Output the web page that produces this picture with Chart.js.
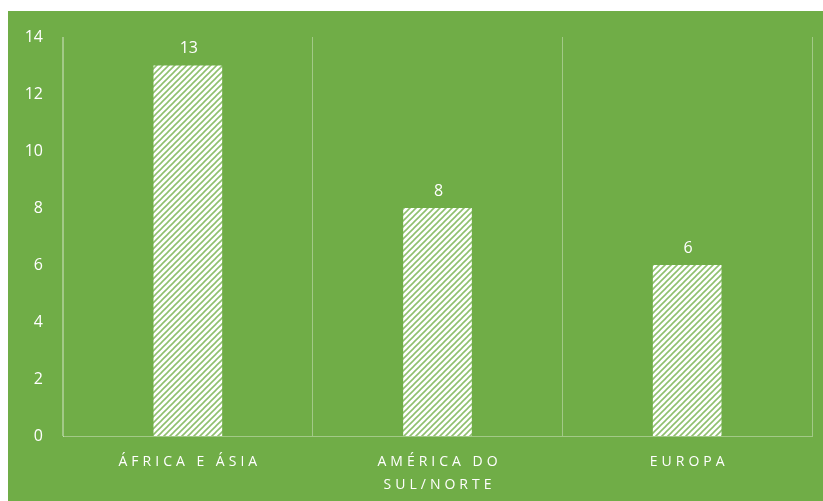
<!DOCTYPE html>
<html>
<head>
<meta charset="utf-8">
<script src="https://cdn.jsdelivr.net/npm/chart.js@4"></script>
<style>
  html, body { margin: 0; padding: 0; background: #ffffff; }
  #wrap { width: 823px; height: 501px; }
</style>
</head>
<body>
<div id="wrap"><canvas id="regionChart" width="823" height="501"></canvas></div>
<script>
const regions = [["ÁFRICA E ÁSIA"], ["AMÉRICA DO", "SUL/NORTE"], ["EUROPA"]];
const counts = [13, 8, 6];
const yTicks = [0, 2, 4, 6, 8, 10, 12, 14];

const bgGreen = "#70AD47";
const lineColor = "rgba(255, 255, 255, 0.35)";

// white tile with green diagonal stripes for the bars
function makeStripes() {
  const size = 6;
  const tile = document.createElement("canvas");
  tile.width = size;
  tile.height = size;
  const t = tile.getContext("2d");
  t.fillStyle = "#ffffff";
  t.fillRect(0, 0, size, size);
  t.strokeStyle = "#8fc06e";
  t.lineWidth = 1.6;
  t.beginPath();
  t.moveTo(-1, size + 1);
  t.lineTo(size + 1, -1);
  t.moveTo(-1, 1);
  t.lineTo(1, -1);
  t.moveTo(size - 1, size + 1);
  t.lineTo(size + 1, size - 1);
  t.stroke();
  return t.createPattern(tile, "repeat");
}

const background = {
  id: "background",
  beforeDraw(chart) {
    const ctx = chart.ctx;
    ctx.save();
    ctx.fillStyle = "#ffffff";
    ctx.fillRect(0, 0, chart.width, chart.height);
    ctx.fillStyle = bgGreen;
    ctx.fillRect(8, 11, chart.width - 8, chart.height - 11);
    ctx.restore();
  },
};

// spaced out category labels on the x axis
const spacedLabels = {
  id: "spacedLabels",
  beforeDraw(chart) {
    const xs = chart.scales.x;
    if (xs._spaced) return;
    const orig = xs.drawLabels;
    xs.drawLabels = function (area) {
      const ctx = this.ctx;
      ctx.save();
      ctx.letterSpacing = "4px";
      ctx.translate(2, 0);
      orig.call(this, area);
      ctx.restore();
    };
    xs._spaced = true;
  },
};

const valueLabels = {
  id: "valueLabels",
  afterDatasetsDraw(chart) {
    const ctx = chart.ctx;
    const meta = chart.getDatasetMeta(0);
    ctx.save();
    ctx.fillStyle = "#ffffff";
    ctx.font = "16px 'Open Sans'";
    ctx.textAlign = "center";
    ctx.textBaseline = "bottom";
    meta.data.forEach((bar, i) => {
      ctx.fillText(String(counts[i]), bar.x + 1, bar.y - 9);
    });
    ctx.restore();
  },
};

const ctx = document.getElementById("regionChart").getContext("2d");

new Chart(ctx, {
  type: "bar",
  data: {
    labels: regions,
    datasets: [
      {
        data: counts,
        backgroundColor: makeStripes(),
        borderWidth: 0,
        categoryPercentage: 1,
        barPercentage: 0.275,
      },
    ],
  },
  options: {
    responsive: false,
    animation: false,
    layout: {
      padding: { left: 8, top: 37, right: 11, bottom: 0 },
    },
    plugins: {
      legend: { display: false },
      tooltip: { enabled: false },
    },
    scales: {
      x: {
        grid: {
          display: true,
          color: lineColor,
          lineWidth: 1,
          drawTicks: false,
          offset: true,
        },
        border: { display: true, color: lineColor, width: 1 },
        ticks: {
          color: "#ffffff",
          font: { family: "'Open Sans'", size: 14, lineHeight: 1.6 },
          padding: 15,
          maxRotation: 0,
          autoSkip: false,
        },
        afterFit(scale) {
          scale.height = 65;
        },
      },
      y: {
        min: 0,
        max: 14,
        afterBuildTicks(scale) {
          scale.ticks = yTicks.map((v) => ({ value: v }));
        },
        grid: { display: false, drawTicks: false },
        border: { display: true, color: lineColor, width: 1 },
        ticks: {
          color: "#ffffff",
          font: { family: "'Open Sans'", size: 16 },
          padding: 20,
        },
        afterFit(scale) {
          scale.width = 55;
        },
      },
    },
  },
  plugins: [background, spacedLabels, valueLabels],
});
</script>
</body>
</html>
